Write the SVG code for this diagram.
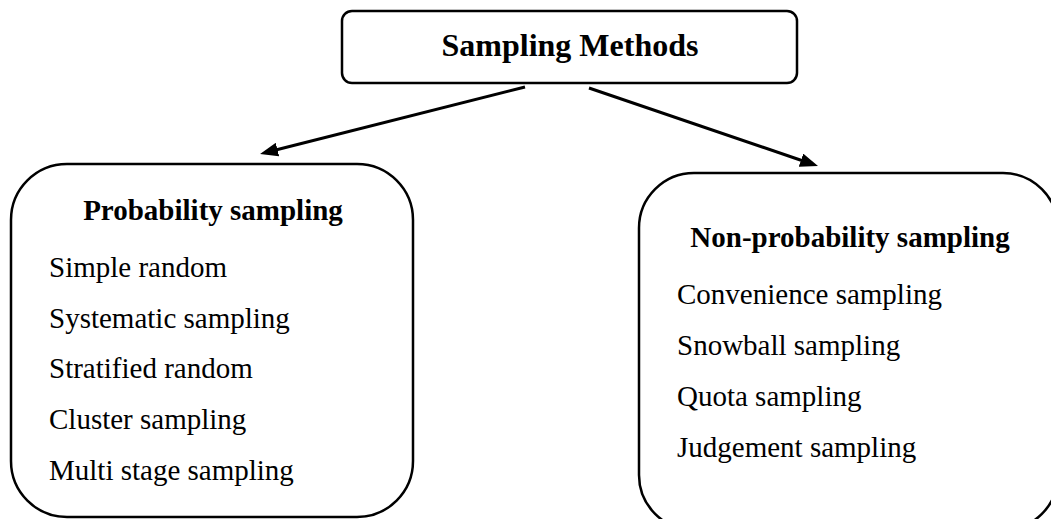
<svg xmlns="http://www.w3.org/2000/svg" width="1051" height="519" viewBox="0 0 1051 519">
  <style>
    .box { fill: #ffffff; stroke: #000000; stroke-width: 2.5; }
    .title { font-family: "Liberation Serif", "Times New Roman", serif; font-weight: bold; fill: #000000; }
    .item { font-family: "Liberation Serif", "Times New Roman", serif; font-size: 29px; fill: #000000; }
    .link { stroke: #000000; stroke-width: 3; fill: none; marker-end: url(#head); }
  </style>
  <defs>
    <marker id="head" markerUnits="userSpaceOnUse" markerWidth="18" markerHeight="14" refX="7" refY="7" orient="auto">
      <path d="M0,0 L18,7 L0,14 z" fill="#000000"/>
    </marker>
  </defs>
  <rect width="1051" height="519" fill="#ffffff"/>

  <!-- root node -->
  <g id="sampling-methods">
    <rect class="box" x="342" y="11" width="455" height="72" rx="10" ry="10"/>
    <text class="title" x="570" y="56" font-size="32" text-anchor="middle">Sampling Methods</text>
  </g>

  <!-- connectors -->
  <g id="connectors">
    <line class="link" x1="525" y1="87" x2="270.7" y2="151.3"/>
    <line class="link" x1="589" y1="88" x2="807.6" y2="162.5"/>
  </g>

  <!-- probability branch -->
  <g id="probability-sampling">
    <rect class="box" x="11" y="164" width="402" height="353" rx="56" ry="56"/>
    <text class="title" x="213" y="220" font-size="29" text-anchor="middle">Probability sampling</text>
    <text class="item" x="49" y="277">Simple random</text>
    <text class="item" x="49" y="327.5">Systematic sampling</text>
    <text class="item" x="49" y="378">Stratified random</text>
    <text class="item" x="49" y="428.5">Cluster sampling</text>
    <text class="item" x="49" y="480">Multi stage sampling</text>
  </g>

  <!-- non-probability branch -->
  <g id="non-probability-sampling">
    <rect class="box" x="639" y="173" width="419" height="357" rx="55" ry="55"/>
    <text class="title" x="850" y="247" font-size="29" text-anchor="middle">Non-probability sampling</text>
    <text class="item" x="677" y="304">Convenience sampling</text>
    <text class="item" x="677" y="355">Snowball sampling</text>
    <text class="item" x="677" y="406">Quota sampling</text>
    <text class="item" x="677" y="457">Judgement sampling</text>
  </g>
</svg>
